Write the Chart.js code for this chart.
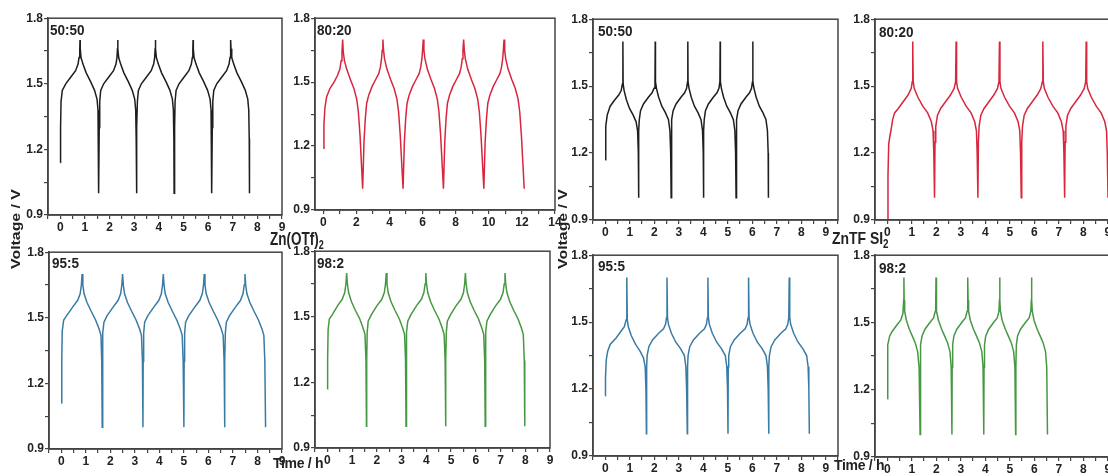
<!DOCTYPE html>
<html>
<head>
<meta charset="utf-8">
<script src="https://cdn.jsdelivr.net/npm/chart.js@4.4.0/dist/chart.umd.min.js"></script>
<style>
  body { margin: 0; width: 1108px; height: 476px; overflow: hidden; position: relative; background: #fff;
         font-family: "Liberation Sans", Arial, sans-serif; color: #222; }
  canvas { position: absolute; }
  .lbl { position: absolute; font-weight: bold; font-size: 15px; line-height: 15px; white-space: nowrap;
         transform: scaleX(0.9); transform-origin: left top; }
  .ttl { position: absolute; font-weight: bold; white-space: nowrap; line-height: 1; }
  .rot { transform: translate(-50%, -50%) rotate(-90deg) scaleX(1.22); font-size: 13px; }
  sub { font-size: 12px; vertical-align: -4px; line-height: 0; }
</style>
</head>
<body>
<script>
// time (h), voltage (V)
const otf5050 = [
  [0,1.14],[0.01,1.3],[0.03,1.42],[0.08,1.47],[0.22,1.5],[0.42,1.53],[0.62,1.56],[0.72,1.59],[0.76,1.62],[0.79,1.66],[0.8,1.7],[0.81,1.66],[0.84,1.62],[0.92,1.59],[1.05,1.55],[1.23,1.51],[1.39,1.47],[1.49,1.43],[1.53,1.38],[1.55,1.25],[1.56,1.0],
  [1.58,1.3],[1.6,1.42],[1.64,1.47],[1.76,1.5],[1.96,1.53],[2.16,1.56],[2.26,1.59],[2.3,1.62],[2.32,1.66],[2.33,1.7],[2.34,1.66],[2.37,1.62],[2.45,1.59],[2.58,1.55],[2.76,1.51],[2.92,1.47],[3.02,1.43],[3.06,1.38],[3.08,1.25],[3.09,1.0],
  [3.11,1.3],[3.13,1.42],[3.17,1.47],[3.29,1.5],[3.49,1.53],[3.69,1.56],[3.79,1.59],[3.83,1.62],[3.85,1.66],[3.86,1.7],[3.87,1.66],[3.9,1.62],[3.98,1.59],[4.11,1.55],[4.29,1.51],[4.45,1.47],[4.55,1.43],[4.59,1.38],[4.61,1.25],[4.62,1.0],
  [4.64,1.3],[4.66,1.42],[4.7,1.47],[4.82,1.5],[5.02,1.53],[5.22,1.56],[5.32,1.59],[5.36,1.62],[5.38,1.66],[5.39,1.7],[5.4,1.66],[5.43,1.62],[5.51,1.59],[5.64,1.55],[5.82,1.51],[5.98,1.47],[6.08,1.43],[6.12,1.38],[6.14,1.25],[6.15,1.0],
  [6.17,1.3],[6.19,1.42],[6.23,1.47],[6.35,1.5],[6.55,1.53],[6.75,1.56],[6.85,1.59],[6.89,1.62],[6.91,1.66],[6.92,1.7],[6.93,1.66],[6.96,1.62],[7.04,1.59],[7.17,1.55],[7.35,1.51],[7.51,1.47],[7.61,1.43],[7.65,1.38],[7.67,1.25],[7.68,1.0]
];
const otf8020 = [
  [0,1.19],[0.04,1.3],[0.1,1.38],[0.2,1.43],[0.4,1.47],[0.65,1.5],[0.85,1.53],[1.0,1.56],[1.08,1.6],[1.13,1.64],[1.17,1.7],[1.21,1.64],[1.28,1.6],[1.42,1.56],[1.65,1.51],[1.85,1.47],[2.02,1.42],[2.12,1.36],[2.22,1.25],[2.38,1.0],
  [2.46,1.22],[2.54,1.33],[2.62,1.4],[2.75,1.44],[2.95,1.48],[3.15,1.51],[3.35,1.54],[3.45,1.57],[3.52,1.61],[3.56,1.65],[3.6,1.7],[3.64,1.65],[3.7,1.61],[3.85,1.56],[4.08,1.51],[4.28,1.47],[4.45,1.42],[4.55,1.36],[4.65,1.25],[4.82,1.0],
  [4.9,1.22],[4.98,1.33],[5.06,1.4],[5.19,1.44],[5.39,1.48],[5.59,1.51],[5.79,1.54],[5.89,1.57],[5.96,1.61],[6.0,1.65],[6.04,1.7],[6.08,1.65],[6.14,1.61],[6.29,1.56],[6.52,1.51],[6.72,1.47],[6.89,1.42],[6.99,1.36],[7.09,1.25],[7.26,1.0],
  [7.34,1.22],[7.42,1.33],[7.5,1.4],[7.63,1.44],[7.83,1.48],[8.03,1.51],[8.23,1.54],[8.33,1.57],[8.4,1.61],[8.44,1.65],[8.48,1.7],[8.52,1.65],[8.58,1.61],[8.73,1.56],[8.96,1.51],[9.16,1.47],[9.33,1.42],[9.43,1.36],[9.53,1.25],[9.7,1.0],
  [9.78,1.22],[9.86,1.33],[9.94,1.4],[10.07,1.44],[10.27,1.48],[10.47,1.51],[10.67,1.54],[10.77,1.57],[10.84,1.61],[10.88,1.65],[10.92,1.7],[10.96,1.65],[11.02,1.61],[11.17,1.56],[11.4,1.51],[11.6,1.47],[11.77,1.42],[11.87,1.36],[11.97,1.25],[12.14,1.0]
];
const otf955 = [
  [0,1.11],[0.02,1.3],[0.04,1.44],[0.1,1.49],[0.22,1.51],[0.47,1.55],[0.67,1.58],[0.77,1.61],[0.82,1.65],[0.85,1.7],[0.88,1.65],[0.93,1.61],[1.05,1.57],[1.22,1.53],[1.4,1.49],[1.54,1.45],[1.62,1.42],[1.65,1.3],[1.67,1.0],
  [1.68,1.3],[1.7,1.43],[1.74,1.48],[1.87,1.51],[2.12,1.55],[2.32,1.58],[2.42,1.61],[2.47,1.65],[2.5,1.7],[2.53,1.65],[2.58,1.61],[2.7,1.57],[2.87,1.53],[3.05,1.49],[3.19,1.45],[3.27,1.42],[3.31,1.3],[3.33,1.0],
  [3.34,1.3],[3.36,1.43],[3.4,1.48],[3.53,1.51],[3.78,1.55],[3.98,1.58],[4.08,1.61],[4.13,1.65],[4.16,1.7],[4.19,1.65],[4.24,1.61],[4.36,1.57],[4.53,1.53],[4.71,1.49],[4.85,1.45],[4.93,1.42],[4.97,1.3],[5.0,1.0],
  [5.01,1.3],[5.03,1.43],[5.07,1.48],[5.2,1.51],[5.45,1.55],[5.65,1.58],[5.75,1.61],[5.8,1.65],[5.83,1.7],[5.86,1.65],[5.91,1.61],[6.03,1.57],[6.2,1.53],[6.38,1.49],[6.52,1.45],[6.6,1.42],[6.64,1.3],[6.66,1.0],
  [6.67,1.3],[6.69,1.43],[6.73,1.48],[6.86,1.51],[7.11,1.55],[7.31,1.58],[7.41,1.61],[7.46,1.65],[7.49,1.7],[7.52,1.65],[7.57,1.61],[7.69,1.57],[7.86,1.53],[8.04,1.49],[8.18,1.45],[8.26,1.42],[8.3,1.3],[8.33,1.0]
];
const otf982 = [
  [0,1.17],[0.01,1.3],[0.03,1.44],[0.08,1.49],[0.2,1.51],[0.41,1.55],[0.6,1.58],[0.7,1.61],[0.75,1.65],[0.78,1.7],[0.81,1.65],[0.86,1.61],[0.97,1.57],[1.13,1.53],[1.31,1.49],[1.44,1.45],[1.52,1.42],[1.56,1.3],[1.58,1.0],
  [1.59,1.3],[1.61,1.43],[1.65,1.48],[1.78,1.51],[2.0,1.55],[2.2,1.58],[2.3,1.61],[2.35,1.65],[2.38,1.7],[2.41,1.65],[2.46,1.61],[2.57,1.57],[2.73,1.53],[2.91,1.49],[3.04,1.45],[3.12,1.42],[3.16,1.3],[3.18,1.0],
  [3.19,1.3],[3.21,1.43],[3.25,1.48],[3.38,1.51],[3.6,1.55],[3.8,1.58],[3.9,1.61],[3.95,1.65],[3.98,1.7],[4.01,1.65],[4.06,1.61],[4.17,1.57],[4.33,1.53],[4.51,1.49],[4.64,1.45],[4.72,1.42],[4.76,1.3],[4.78,1.0],
  [4.79,1.3],[4.81,1.43],[4.85,1.48],[4.98,1.51],[5.2,1.55],[5.4,1.58],[5.5,1.61],[5.55,1.65],[5.58,1.7],[5.61,1.65],[5.66,1.61],[5.77,1.57],[5.93,1.53],[6.11,1.49],[6.24,1.45],[6.32,1.42],[6.36,1.3],[6.38,1.0],
  [6.39,1.3],[6.41,1.43],[6.45,1.48],[6.58,1.51],[6.8,1.55],[7.0,1.58],[7.1,1.61],[7.15,1.65],[7.18,1.7],[7.21,1.65],[7.26,1.61],[7.37,1.57],[7.53,1.53],[7.71,1.49],[7.84,1.45],[7.92,1.42],[7.96,1.3],[7.98,1.0]
];
const tfsi5050 = [
  [0,1.17],[0.01,1.25],[0.03,1.32],[0.08,1.37],[0.2,1.41],[0.4,1.44],[0.55,1.46],[0.65,1.48],[0.7,1.51],[0.72,1.7],[0.73,1.51],[0.77,1.48],[0.86,1.44],[0.99,1.4],[1.14,1.37],[1.26,1.34],[1.32,1.3],[1.35,1.2],[1.36,1.0],
  [1.37,1.3],[1.39,1.35],[1.44,1.39],[1.56,1.42],[1.76,1.45],[1.91,1.47],[1.99,1.49],[2.03,1.52],[2.04,1.7],[2.05,1.52],[2.09,1.49],[2.18,1.45],[2.31,1.41],[2.46,1.38],[2.58,1.35],[2.64,1.3],[2.67,1.2],[2.69,1.0],
  [2.7,1.3],[2.72,1.35],[2.77,1.39],[2.89,1.42],[3.09,1.45],[3.24,1.47],[3.32,1.49],[3.36,1.52],[3.37,1.7],[3.38,1.52],[3.42,1.49],[3.51,1.45],[3.64,1.41],[3.79,1.38],[3.91,1.35],[3.97,1.3],[4.0,1.2],[4.01,1.0],
  [4.02,1.3],[4.04,1.35],[4.09,1.39],[4.21,1.42],[4.41,1.45],[4.56,1.47],[4.64,1.49],[4.68,1.52],[4.69,1.7],[4.7,1.52],[4.74,1.49],[4.83,1.45],[4.96,1.41],[5.11,1.38],[5.23,1.35],[5.29,1.3],[5.32,1.2],[5.34,1.0],
  [5.35,1.3],[5.37,1.35],[5.42,1.39],[5.54,1.42],[5.74,1.45],[5.89,1.47],[5.97,1.49],[6.01,1.52],[6.02,1.7],[6.03,1.52],[6.07,1.49],[6.16,1.45],[6.29,1.41],[6.44,1.38],[6.56,1.35],[6.62,1.3],[6.65,1.2],[6.66,1.0]
];
const tfsi8020 = [
  [0,0.9],[0.03,1.1],[0.06,1.24],[0.1,1.27],[0.15,1.3],[0.22,1.35],[0.3,1.38],[0.45,1.4],[0.65,1.43],[0.85,1.46],[0.98,1.49],[1.02,1.52],[1.04,1.7],[1.06,1.52],[1.1,1.49],[1.25,1.45],[1.45,1.41],[1.65,1.38],[1.8,1.34],[1.87,1.3],[1.9,1.2],[1.93,1.0],
  [1.95,1.25],[1.98,1.32],[2.05,1.37],[2.18,1.4],[2.38,1.43],[2.58,1.46],[2.73,1.49],[2.79,1.52],[2.81,1.7],[2.83,1.52],[2.87,1.49],[3.02,1.45],[3.22,1.41],[3.42,1.38],[3.57,1.34],[3.64,1.3],[3.67,1.2],[3.7,1.0],
  [3.72,1.25],[3.75,1.32],[3.82,1.37],[3.95,1.4],[4.15,1.43],[4.35,1.46],[4.5,1.49],[4.56,1.52],[4.58,1.7],[4.6,1.52],[4.64,1.49],[4.79,1.45],[4.99,1.41],[5.19,1.38],[5.34,1.34],[5.41,1.3],[5.44,1.2],[5.47,1.0],
  [5.49,1.25],[5.52,1.32],[5.59,1.37],[5.72,1.4],[5.92,1.43],[6.12,1.46],[6.27,1.49],[6.33,1.52],[6.35,1.7],[6.37,1.52],[6.41,1.49],[6.56,1.45],[6.76,1.41],[6.96,1.38],[7.11,1.34],[7.18,1.3],[7.21,1.2],[7.24,1.0],
  [7.26,1.25],[7.29,1.32],[7.36,1.37],[7.49,1.4],[7.69,1.43],[7.89,1.46],[8.04,1.49],[8.1,1.52],[8.12,1.7],[8.14,1.52],[8.18,1.49],[8.33,1.45],[8.53,1.41],[8.73,1.38],[8.88,1.34],[8.95,1.3],[8.98,1.2],[9.01,1.0]
];
const tfsi955 = [
  [0,1.17],[0.01,1.25],[0.04,1.33],[0.1,1.37],[0.2,1.4],[0.45,1.43],[0.65,1.46],[0.78,1.48],[0.85,1.51],[0.88,1.7],[0.9,1.51],[0.94,1.48],[1.06,1.44],[1.24,1.4],[1.42,1.37],[1.56,1.34],[1.63,1.3],[1.66,1.2],[1.68,1.0],
  [1.69,1.3],[1.71,1.35],[1.78,1.39],[1.93,1.42],[2.18,1.45],[2.38,1.47],[2.46,1.49],[2.5,1.52],[2.52,1.7],[2.54,1.52],[2.58,1.49],[2.7,1.45],[2.88,1.41],[3.08,1.38],[3.23,1.35],[3.29,1.3],[3.32,1.2],[3.35,1.0],
  [3.36,1.3],[3.38,1.35],[3.45,1.39],[3.6,1.42],[3.85,1.45],[4.05,1.47],[4.13,1.49],[4.17,1.52],[4.19,1.7],[4.21,1.52],[4.25,1.49],[4.37,1.45],[4.55,1.41],[4.75,1.38],[4.9,1.35],[4.96,1.3],[4.99,1.2],[5.01,1.0],
  [5.02,1.3],[5.04,1.35],[5.11,1.39],[5.26,1.42],[5.51,1.45],[5.71,1.47],[5.79,1.49],[5.83,1.52],[5.85,1.7],[5.87,1.52],[5.91,1.49],[6.03,1.45],[6.21,1.41],[6.41,1.38],[6.56,1.35],[6.62,1.3],[6.65,1.2],[6.67,1.0],
  [6.68,1.3],[6.7,1.35],[6.77,1.39],[6.92,1.42],[7.17,1.45],[7.37,1.47],[7.45,1.49],[7.49,1.52],[7.51,1.7],[7.53,1.52],[7.57,1.49],[7.69,1.45],[7.87,1.41],[8.07,1.38],[8.22,1.35],[8.28,1.3],[8.31,1.2],[8.33,1.0]
];
const tfsi982 = [
  [0,1.16],[0.01,1.3],[0.03,1.4],[0.1,1.44],[0.2,1.46],[0.4,1.49],[0.55,1.51],[0.64,1.54],[0.67,1.6],[0.68,1.7],[0.69,1.6],[0.71,1.55],[0.78,1.51],[0.9,1.47],[1.02,1.44],[1.14,1.41],[1.24,1.37],[1.3,1.3],[1.34,1.0],
  [1.35,1.3],[1.37,1.4],[1.42,1.44],[1.54,1.47],[1.74,1.5],[1.89,1.52],[1.96,1.55],[1.98,1.6],[1.99,1.7],[2.0,1.6],[2.02,1.55],[2.09,1.51],[2.22,1.47],[2.34,1.44],[2.46,1.41],[2.56,1.37],[2.61,1.3],[2.64,1.0],
  [2.65,1.3],[2.67,1.4],[2.72,1.44],[2.84,1.47],[3.04,1.5],[3.19,1.52],[3.26,1.55],[3.28,1.6],[3.29,1.7],[3.3,1.6],[3.32,1.55],[3.39,1.51],[3.52,1.47],[3.64,1.44],[3.76,1.41],[3.86,1.37],[3.91,1.3],[3.94,1.0],
  [3.95,1.3],[3.97,1.4],[4.02,1.44],[4.14,1.47],[4.34,1.5],[4.49,1.52],[4.56,1.55],[4.58,1.6],[4.59,1.7],[4.6,1.6],[4.62,1.55],[4.69,1.51],[4.82,1.47],[4.94,1.44],[5.06,1.41],[5.16,1.37],[5.21,1.3],[5.24,1.0],
  [5.25,1.3],[5.27,1.4],[5.32,1.44],[5.44,1.47],[5.64,1.5],[5.79,1.52],[5.86,1.55],[5.88,1.6],[5.89,1.7],[5.9,1.6],[5.92,1.55],[5.99,1.51],[6.12,1.47],[6.24,1.44],[6.36,1.41],[6.46,1.37],[6.51,1.3],[6.54,1.0]
];

const panelNames = ['50:50', '80:20', '50:50', '80:20', '95:5', '98:2', '95:5', '98:2'];
const yTicks = [0.9, 1.2, 1.5, 1.8];

// plot area in page pixels: left, top, right, bottom
const panels = [
  { data: otf5050,  color: '#1e1e1e', box: [48, 18, 282, 215],  xMax: 9,   xStep: 1, tag: [50, 22] },
  { data: otf8020,  color: '#d7263d', box: [315, 18, 555, 210], xMax: 14,  xStep: 2, tag: [317, 22] },
  { data: tfsi5050, color: '#1e1e1e', box: [593, 19, 838, 220], xMax: 9.5, xStep: 1, tag: [598, 23] },
  { data: tfsi8020, color: '#d7263d', box: [875, 19, 1120, 220], xMax: 9.5, xStep: 1, tag: [879, 24] },
  { data: otf955,   color: '#3a7ba5', box: [49, 252, 282, 449], xMax: 9,   xStep: 1, tag: [52, 255] },
  { data: otf982,   color: '#479843', box: [315, 251, 550, 448], xMax: 9,  xStep: 1, tag: [317, 255] },
  { data: tfsi955,  color: '#3a7ba5', box: [593, 255, 838, 456], xMax: 9.5, xStep: 1, tag: [598, 258] },
  { data: tfsi982,  color: '#479843', box: [875, 255, 1120, 457], xMax: 9.5, xStep: 1, tag: [879, 260] }
];

const frame = {
  id: 'frame',
  afterDatasetsDraw(chart) {
    const { ctx, chartArea: a } = chart;
    ctx.save();
    ctx.strokeStyle = '#444';
    ctx.lineWidth = 1.5;
    ctx.strokeRect(a.left, a.top, a.right - a.left, a.bottom - a.top);
    ctx.restore();
  }
};

const tickFont = { family: '"Liberation Sans", Arial, sans-serif', size: 12, weight: 'bold' };
const yw = 32, xh = 24, padT = 8, padR = 10;

panels.forEach((p, i) => {
  const [L, T, R, B] = p.box;
  const c = document.createElement('canvas');
  const w = R - L + yw + padR, h = B - T + padT + xh;
  c.width = w; c.height = h;
  c.style.left = (L - yw) + 'px';
  c.style.top = (T - padT) + 'px';
  c.style.width = w + 'px';
  c.style.height = h + 'px';
  document.body.appendChild(c);

  new Chart(c, {
    type: 'line',
    data: {
      datasets: [{
        data: p.data.map(([x, y]) => ({ x, y })),
        borderColor: p.color,
        borderWidth: 1.5,
        pointRadius: 0,
        tension: 0,
        fill: false
      }]
    },
    options: {
      responsive: false,
      animation: false,
      devicePixelRatio: 1,
      layout: { padding: { top: padT, right: padR, left: 0, bottom: 0 } },
      plugins: { legend: { display: false }, tooltip: { enabled: false } },
      scales: {
        x: {
          type: 'linear', min: -0.5, max: p.xMax,
          afterFit(s) { s.height = xh; },
          ticks: {
            stepSize: p.xStep / 2, includeBounds: false, autoSkip: false, maxRotation: 0, padding: 1,
            color: '#222', font: tickFont,
            callback: v => (v >= 0 && Math.abs(v / p.xStep - Math.round(v / p.xStep)) < 1e-6) ? String(Math.round(v)) : ''
          },
          grid: { drawOnChartArea: false, tickLength: 4, color: '#444', lineWidth: 1.2 },
          border: { color: '#444', width: 1.5 }
        },
        y: {
          min: 0.9, max: 1.8,
          afterFit(s) { s.width = yw; },
          ticks: {
            stepSize: 0.15, padding: 1, color: '#222', font: tickFont,
            callback: v => yTicks.some(t => Math.abs(t - v) < 1e-6) ? v.toFixed(1) : ''
          },
          grid: { drawOnChartArea: false, tickLength: 4, color: '#444', lineWidth: 1.2 },
          border: { color: '#444', width: 1.5 }
        }
      }
    },
    plugins: [frame]
  });

  const tag = document.createElement('div');
  tag.className = 'lbl';
  tag.textContent = panelNames[i];
  tag.style.left = p.tag[0] + 'px';
  tag.style.top = p.tag[1] + 'px';
  document.body.appendChild(tag);
});
</script>
<div class="ttl rot" style="left:15px; top:229px;">Voltage / V</div>
<div class="ttl rot" style="left:562px; top:229px;">Voltage / V</div>
<div class="ttl" style="left:270px; top:230px; font-size:18px; transform:scaleX(0.75); transform-origin:left top;">Zn(OTf)<sub>2</sub></div>
<div class="ttl" style="left:832px; top:230px; font-size:17px; transform:scaleX(0.82); transform-origin:left top;">ZnTF SI<sub>2</sub></div>
<div class="ttl" style="left:273px; top:456px; font-size:14px; letter-spacing:-0.3px;">Time / h</div>
<div class="ttl" style="left:834px; top:458px; font-size:14px; letter-spacing:-0.3px;">Time / h</div>
</body>
</html>
